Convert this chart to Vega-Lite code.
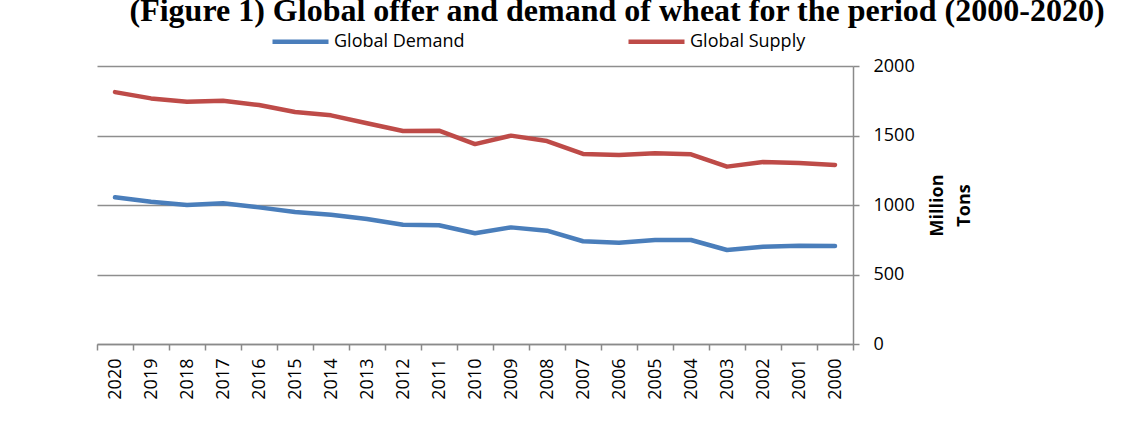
{
  "$schema": "https://vega.github.io/schema/vega-lite/v6.json",
  "width": 756,
  "height": 278,
  "autosize": {"type": "none"},
  "padding": {"left": 97, "top": 66, "right": 283, "bottom": 89},
  "background": "white",
  "title": {
    "text": "(Figure 1) Global offer and demand of wheat for the period (2000-2020)",
    "font": "Liberation Serif",
    "fontSize": 32,
    "fontWeight": "bold",
    "color": "black",
    "anchor": "middle",
    "frame": "group",
    "baseline": "alphabetic",
    "dx": 142,
    "dy": 42,
    "offset": 0
  },
  "data": {
    "values": [
      {"year": "2020", "series": "Global Demand", "value": 1055},
      {"year": "2019", "series": "Global Demand", "value": 1024},
      {"year": "2018", "series": "Global Demand", "value": 1000},
      {"year": "2017", "series": "Global Demand", "value": 1012},
      {"year": "2016", "series": "Global Demand", "value": 983},
      {"year": "2015", "series": "Global Demand", "value": 950},
      {"year": "2014", "series": "Global Demand", "value": 930},
      {"year": "2013", "series": "Global Demand", "value": 899},
      {"year": "2012", "series": "Global Demand", "value": 858},
      {"year": "2011", "series": "Global Demand", "value": 854},
      {"year": "2010", "series": "Global Demand", "value": 797},
      {"year": "2009", "series": "Global Demand", "value": 839},
      {"year": "2008", "series": "Global Demand", "value": 815},
      {"year": "2007", "series": "Global Demand", "value": 739},
      {"year": "2006", "series": "Global Demand", "value": 729},
      {"year": "2005", "series": "Global Demand", "value": 748},
      {"year": "2004", "series": "Global Demand", "value": 748},
      {"year": "2003", "series": "Global Demand", "value": 676},
      {"year": "2002", "series": "Global Demand", "value": 700},
      {"year": "2001", "series": "Global Demand", "value": 707},
      {"year": "2000", "series": "Global Demand", "value": 705},
      {"year": "2020", "series": "Global Supply", "value": 1812},
      {"year": "2019", "series": "Global Supply", "value": 1767},
      {"year": "2018", "series": "Global Supply", "value": 1743},
      {"year": "2017", "series": "Global Supply", "value": 1750},
      {"year": "2016", "series": "Global Supply", "value": 1719},
      {"year": "2015", "series": "Global Supply", "value": 1669},
      {"year": "2014", "series": "Global Supply", "value": 1645},
      {"year": "2013", "series": "Global Supply", "value": 1588},
      {"year": "2012", "series": "Global Supply", "value": 1532},
      {"year": "2011", "series": "Global Supply", "value": 1535},
      {"year": "2010", "series": "Global Supply", "value": 1438},
      {"year": "2009", "series": "Global Supply", "value": 1499},
      {"year": "2008", "series": "Global Supply", "value": 1460},
      {"year": "2007", "series": "Global Supply", "value": 1367},
      {"year": "2006", "series": "Global Supply", "value": 1360},
      {"year": "2005", "series": "Global Supply", "value": 1372},
      {"year": "2004", "series": "Global Supply", "value": 1365},
      {"year": "2003", "series": "Global Supply", "value": 1276},
      {"year": "2002", "series": "Global Supply", "value": 1309},
      {"year": "2001", "series": "Global Supply", "value": 1302},
      {"year": "2000", "series": "Global Supply", "value": 1288}
    ]
  },
  "mark": {"type": "line", "strokeWidth": 4.5, "strokeCap": "round", "strokeJoin": "round"},
  "encoding": {
    "x": {
      "field": "year",
      "type": "ordinal",
      "sort": "descending",
      "scale": {"type": "band", "paddingInner": 0, "paddingOuter": 0},
      "axis": {
        "title": null,
        "labelAngle": -90,
        "labelAlign": "right",
        "labelBaseline": "middle",
        "labelFont": "Open Sans",
        "labelFontSize": 18,
        "labelColor": "black",
        "labelPadding": 8,
        "tickBand": "extent",
        "tickSize": 6,
        "tickColor": "#8a8a8a",
        "domainColor": "#8a8a8a",
        "domainWidth": 1.5,
        "tickWidth": 1.5,
        "grid": false
      }
    },
    "y": {
      "field": "value",
      "type": "quantitative",
      "scale": {"domain": [0, 2000]},
      "axis": {
        "orient": "right",
        "values": [0, 500, 1000, 1500, 2000],
        "format": "d",
        "title": ["Million", "Tons"],
        "titleFont": "Open Sans",
        "titleFontSize": 18,
        "titleFontWeight": "bold",
        "titleColor": "black",
        "titleAngle": -90,
        "titleLineHeight": 27,
        "titlePadding": 5,
        "labelFont": "Open Sans",
        "labelFontSize": 18,
        "labelColor": "black",
        "labelPadding": 14,
        "tickSize": 6,
        "tickColor": "#8a8a8a",
        "tickWidth": 1.5,
        "domainColor": "#8a8a8a",
        "domainWidth": 1.5,
        "grid": true,
        "gridColor": "#8e8e8e",
        "gridWidth": 1.5
      }
    },
    "color": {
      "field": "series",
      "type": "nominal",
      "scale": {"domain": ["Global Demand", "Global Supply"], "range": ["#4a7ebb", "#be4b48"]},
      "legend": {
        "title": null,
        "orient": "none",
        "direction": "horizontal",
        "legendX": 173,
        "legendY": -55,
        "padding": 0,
        "symbolType": "stroke",
        "symbolSize": 3136,
        "symbolStrokeWidth": 4.5,
        "labelFont": "Open Sans",
        "labelFontSize": 18,
        "labelColor": "black",
        "labelOffset": 3,
        "columnPadding": 154
      }
    }
  },
  "config": {"view": {"stroke": null}}
}
